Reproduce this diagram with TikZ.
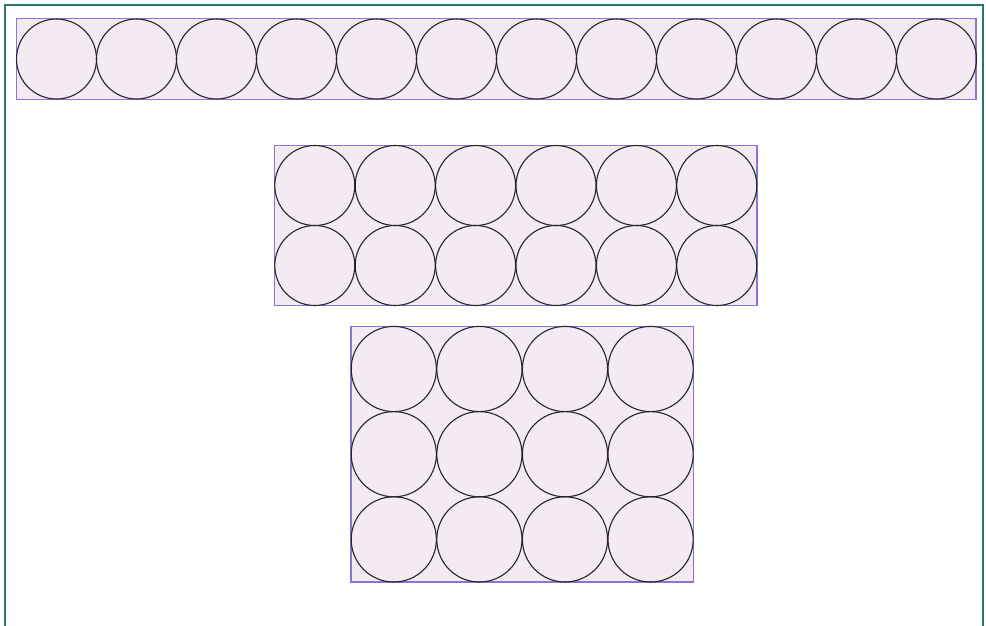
\documentclass[tikz,border=0pt]{standalone}
\begin{document}
\begin{tikzpicture}[x=1pt,y=-1pt,
  boxfill/.style={fill=boxpink,draw=boxpurple,line width=1.1pt},
  disc/.style={draw=black!85,line width=1.1pt}]
\definecolor{boxpink}{RGB}{243,234,242}
\definecolor{boxpurple}{RGB}{140,115,215}
\definecolor{frameteal}{RGB}{40,118,108}
\useasboundingbox (0,0) rectangle (986,625);
\draw[frameteal,line width=2pt] (4.5,630) -- (4.5,5) -- (982.5,5) -- (982.5,630);
% top row
\draw[boxfill] (16.5,18.5) rectangle (976,99.5);
\foreach \i in {0,...,11}{
  \draw[disc] (56.5+80*\i,59) circle (40);
}
% middle 2x6
\draw[boxfill] (274.5,145.5) rectangle (757,305.5);
\foreach \r in {0,1}{
  \foreach \c in {0,...,5}{
    \draw[disc] (314.8+80.4*\c,185.5+80*\r) circle (40);
  }
}
% bottom 3x4
\draw[boxfill] (351,326.5) rectangle (693.5,582);
\foreach \r in {0,1,2}{
  \foreach \c in {0,...,3}{
    \draw[disc] (393.8+85.6*\c,369+85.2*\r) circle (42.6);
  }
}
\end{tikzpicture}
\end{document}
